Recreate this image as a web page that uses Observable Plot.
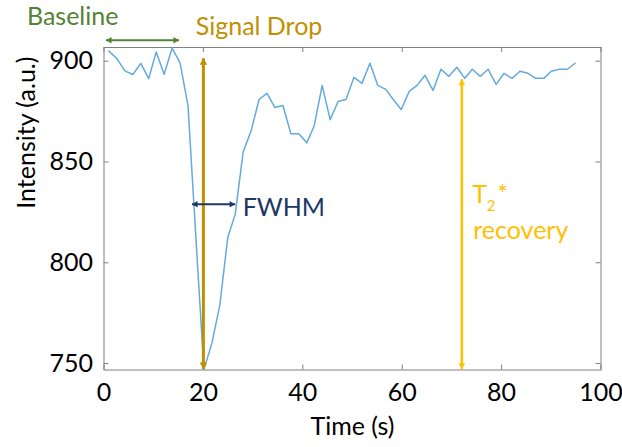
<!DOCTYPE html>
<html><head><meta charset="utf-8">
<script src="https://cdn.jsdelivr.net/npm/d3@7"></script>
<script src="https://cdn.jsdelivr.net/npm/@observablehq/plot@0.6"></script>
<style>html,body{margin:0;padding:0;background:#fff;}</style>
</head><body><div id="chart"></div>
<script>
// ---- data ----
const time = [1.0, 2.6, 4.2, 5.8, 7.4, 9.0, 10.5, 12.1, 13.7, 15.3,
  16.9, 18.5, 20.1, 21.7, 23.3, 24.9, 26.4, 28.0, 29.6, 31.2,
  32.8, 34.4, 36.0, 37.6, 39.2, 40.8, 42.3, 43.9, 45.5, 47.1,
  48.7, 50.3, 51.9, 53.5, 55.1, 56.7, 58.2, 59.8, 61.4, 63.0,
  64.6, 66.2, 67.8, 69.4, 71.0, 72.6, 74.1, 75.7, 77.3, 78.9,
  80.5, 82.1, 83.7, 85.3, 86.9, 88.5, 90.0, 91.6, 93.2, 94.8];
const intensity = [905, 901.3, 895.2, 893.4, 898.9, 891.4, 904.6, 893.5, 906.5, 899.2,
  878, 812, 747, 760, 779, 812.5, 824, 855, 865.5, 881,
  884, 877, 878, 864, 864, 859.5, 868, 888, 871, 880,
  881, 892, 889, 899, 888, 886, 881, 876, 885, 888,
  893, 885.5, 896, 892.5, 897, 891.5, 896, 892.5, 896, 888.5,
  894, 891.5, 895, 894, 891.5, 891.5, 895, 896, 896, 899];
const xTicks = [0, 20, 40, 60, 80, 100];
const yTicks = [750, 800, 850, 900];
const xTitle = "Time (s)";
const yTitle = "Intensity (a.u.)";
// annotations (data units)
const baselineSpan = [0.4, 15.1];
const dropTime = 20;
const dropRange = [747.3, 901.5];
const fwhmSpan = [17.7, 26.4];
const fwhmLevel = 829;
const recoveryTime = 72;
const recoveryRange = [747.3, 891];

const data = time.map((t, i) => ({t, v: intensity[i]}));

const W = 622, H = 447;
const mL = 103.5, mR = 21.5, mT = 47, mB = 77.5;
const plotW = W - mL - mR, plotH = H - mT - mB;
const FONT = "Lato, 'Open Sans', sans-serif";
const FS = 25;
const AX = "#808080";

function vArrow(x, y1, y2, color, w, r) {
  const k = 1.555 * r;
  return [
    Plot.link([0], {x1: () => x, x2: () => x, y1: () => y1, y2: () => y2, stroke: color, strokeWidth: w}),
    Plot.dot([0], {x: () => x, y: () => y2, symbol: "triangle", r, fill: color, stroke: null, dy: k}),
    Plot.dot([0], {x: () => x, y: () => y1, symbol: "triangle", r, fill: color, stroke: null, rotate: 180, dy: -k})
  ];
}
function hArrow(x1, x2, y, color, w, r) {
  const k = 1.555 * r;
  return [
    Plot.link([0], {x1: () => x1, x2: () => x2, y1: () => y, y2: () => y, stroke: color, strokeWidth: w}),
    Plot.dot([0], {x: () => x2, y: () => y, symbol: "triangle", r, fill: color, stroke: null, rotate: 90, dx: -k}),
    Plot.dot([0], {x: () => x1, y: () => y, symbol: "triangle", r, fill: color, stroke: null, rotate: -90, dx: k})
  ];
}

const chart = Plot.plot({
  width: W, height: H,
  marginLeft: mL, marginRight: mR, marginTop: mT, marginBottom: mB,
  x: {domain: [0, 100], axis: null},
  y: {domain: [746.8, 906.8], axis: null},
  style: {fontFamily: FONT, fontSize: FS + "px", background: "#fff", color: "#000", overflow: "visible"},
  marks: [
    Plot.ruleX(xTicks, {x: d => d, insetTop: plotH - 5, stroke: AX}),
    Plot.ruleX(xTicks, {x: d => d, insetBottom: plotH - 5, stroke: AX}),
    Plot.ruleY(yTicks, {y: d => d, insetRight: plotW - 5, stroke: AX}),
    Plot.ruleY(yTicks, {y: d => d, insetLeft: plotW - 5, stroke: AX}),
    Plot.frame({stroke: AX, strokeWidth: 1}),
    Plot.text(xTicks, {x: d => d, text: d => String(d), frameAnchor: "bottom", dy: 13, lineAnchor: "top", fontSize: FS, fill: "#000"}),
    Plot.text(yTicks, {y: d => d, text: d => String(d), frameAnchor: "left", dx: -11, textAnchor: "end", lineAnchor: "middle", fontSize: FS, fill: "#000"}),
    Plot.text([xTitle], {text: d => d, frameAnchor: "bottom", dy: 64.5, lineAnchor: "bottom", fontSize: FS, fill: "#000"}),
    Plot.text([yTitle], {text: d => d, frameAnchor: "left", dx: -(mL - 26), rotate: -90, lineAnchor: "middle", fontSize: FS, fill: "#000"}),
    Plot.line(data, {x: "t", y: "v", stroke: "#64aadc", strokeWidth: 1.5}),
    ...hArrow(baselineSpan[0], baselineSpan[1], 910.4, "#548235", 2, 2.4),
    Plot.text(["Baseline"], {x: () => -6.3, y: () => 917.9, text: d => d, textAnchor: "middle", lineAnchor: "bottom", fontSize: FS, fill: "#548235"}),
    ...vArrow(dropTime, dropRange[0], dropRange[1], "#BF9000", 3, 2.8),
    Plot.text(["Signal Drop"], {x: () => 31.2, y: () => 912.9, text: d => d, textAnchor: "middle", lineAnchor: "bottom", fontSize: FS, fill: "#BF9000"}),
    ...hArrow(fwhmSpan[0], fwhmSpan[1], fwhmLevel, "#203864", 2, 2.4),
    Plot.text(["FWHM"], {x: () => 27.9, y: () => 823, text: d => d, textAnchor: "start", lineAnchor: "bottom", fontSize: FS, fill: "#203864"}),
    ...vArrow(recoveryTime, recoveryRange[0], recoveryRange[1], "#FFC000", 2.5, 2.5),
    Plot.text(["T"], {x: () => 74.1, y: () => 829.5, text: d => d, textAnchor: "start", lineAnchor: "bottom", fontSize: FS, fill: "#FFC000"}),
    Plot.text(["2"], {x: () => 77.0, y: () => 825.8, text: d => d, textAnchor: "start", lineAnchor: "bottom", fontSize: 15, fill: "#FFC000"}),
    Plot.text(["*"], {x: () => 79.1, y: () => 829.5, text: d => d, textAnchor: "start", lineAnchor: "bottom", fontSize: FS, fill: "#FFC000"}),
    Plot.text(["recovery"], {x: () => 74.3, y: () => 812, text: d => d, textAnchor: "start", lineAnchor: "bottom", fontSize: FS, fill: "#FFC000"})
  ]
});
document.getElementById("chart").appendChild(chart);
</script>
</body></html>
